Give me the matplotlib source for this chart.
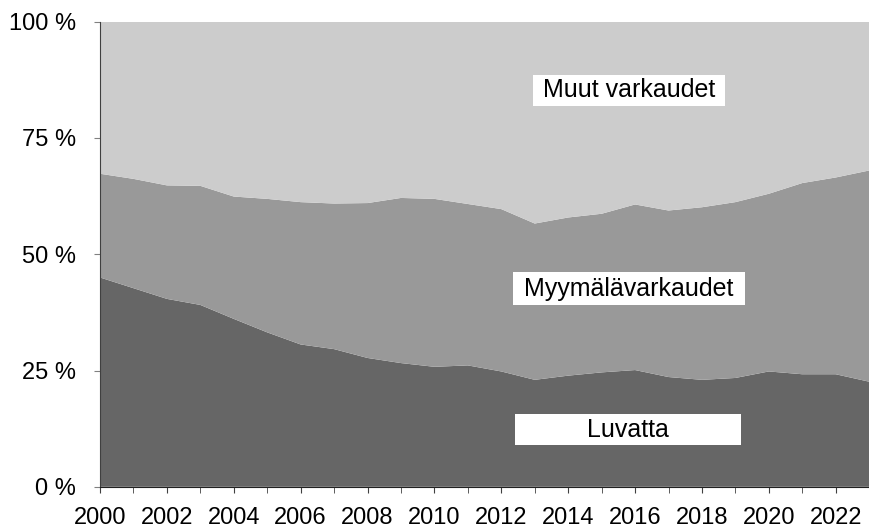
import matplotlib
matplotlib.use("Agg")
import matplotlib.pyplot as plt
from matplotlib.patches import Rectangle

years = list(range(2000, 2024))
luvatta = [45.0, 42.7, 40.4, 39.1, 36.1, 33.2, 30.6, 29.6, 27.7, 26.6, 25.8, 26.1,
           24.8, 23.0, 23.9, 24.6, 25.1, 23.6, 23.0, 23.4, 24.8, 24.2, 24.2, 22.6]
# cumulative top of the shop-theft band
myymala_top = [67.3, 66.2, 64.8, 64.7, 62.4, 61.9, 61.2, 60.9, 61.0, 62.1, 61.9, 60.8,
               59.7, 56.6, 57.9, 58.7, 60.7, 59.4, 60.1, 61.2, 63.0, 65.3, 66.5, 68.0]
myymala = [t - l for t, l in zip(myymala_top, luvatta)]
muut = [100 - t for t in myymala_top]

labels = ["Luvatta", "Myymälävarkaudet", "Muut varkaudet"]
colors = ["#666666", "#999999", "#cccccc"]

plt.rcParams["font.family"] = ["Liberation Sans", "DejaVu Sans"]

fig = plt.figure(figsize=(8.7, 5.28), dpi=100)
ax = fig.add_axes([0.115, 0.078, 0.884, 0.881])

ax.stackplot(years, luvatta, myymala, muut, colors=colors, linewidth=0)

ax.set_xlim(2000, 2023)
ax.set_ylim(0, 100)
ax.set_yticks([0, 25, 50, 75, 100])
ax.set_yticklabels([f"{v} %" for v in [0, 25, 50, 75, 100]], fontsize=17)
ax.set_xticks(years, minor=True)
ax.set_xticks(years[::2])
ax.set_xticklabels([str(y) for y in years[::2]], fontsize=17)
ax.tick_params(axis="x", which="both", length=4.3, color="#404040", pad=10)
ax.tick_params(axis="y", length=4.3, color="#808080", pad=13)

for side in ["top", "right"]:
    ax.spines[side].set_visible(False)
ax.spines["left"].set_color("#404040")
ax.spines["bottom"].set_color("#202020")

# white label boxes (axes fraction)
boxes = [
    ("Muut varkaudet", 0.563, 0.818, 0.250, 0.068),
    ("Myymälävarkaudet", 0.537, 0.391, 0.302, 0.070),
    ("Luvatta", 0.540, 0.089, 0.293, 0.068),
]
for txt, x0, y0, w, h in boxes:
    ax.add_patch(Rectangle((x0, y0), w, h, transform=ax.transAxes,
                           facecolor="white", edgecolor="none", zorder=3))
    ax.text(x0 + w / 2, y0 + h / 2, txt, transform=ax.transAxes,
            ha="center", va="center", fontsize=18, zorder=4)

fig.savefig("out.png", dpi=100)
